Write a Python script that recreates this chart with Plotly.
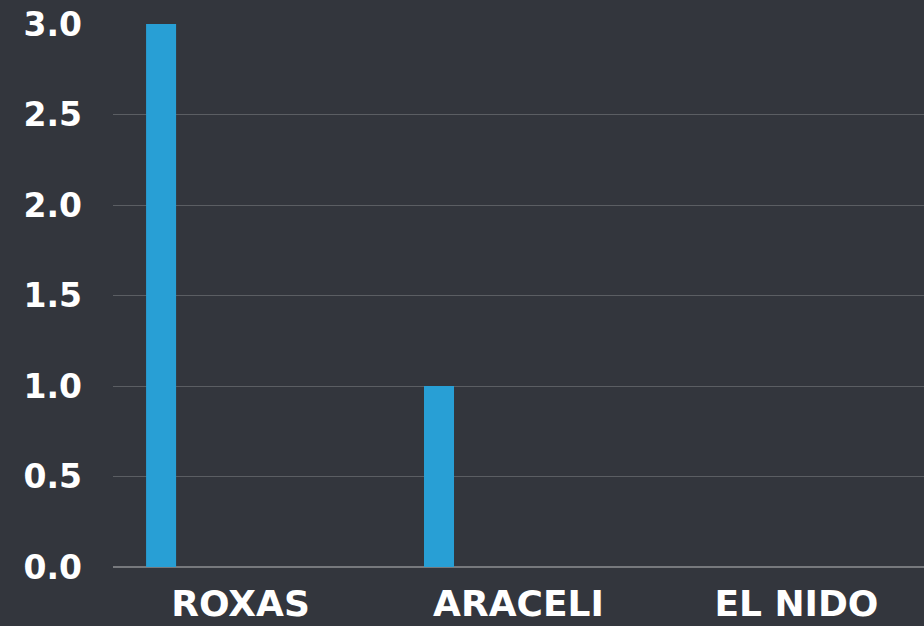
import plotly.graph_objects as go

categories = ["ROXAS", "ARACELI", "EL NIDO"]
values = [3, 1, 0]
y_ticks = [0, 0.5, 1.0, 1.5, 2.0, 2.5, 3.0]
y_tick_labels = ["0.0", "0.5", "1.0", "1.5", "2.0", "2.5", "3.0"]

BG = "#33363d"
BAR = "#289fd5"
GRID = "#5b5e63"
FONT = "DejaVu Sans"

fig = go.Figure()
fig.add_trace(go.Bar(
    x=categories, y=values,
    marker=dict(color=BAR, line=dict(width=0)),
    width=0.108, offset=-0.340,
))
fig.update_layout(
    width=924, height=626,
    paper_bgcolor=BG, plot_bgcolor=BG,
    margin=dict(l=113, r=0, t=24, b=59),
    showlegend=False,
    font=dict(family=FONT, color="white"),
    xaxis=dict(
        range=[-0.459, 2.459], showgrid=False, zeroline=False,
        tickfont=dict(family=FONT, size=36, color="white", weight=700),
        ticks="", ticklabelstandoff=12,
    ),
    yaxis=dict(
        range=[0, 3], tickvals=y_ticks, ticktext=y_tick_labels,
        showgrid=True, gridcolor=GRID, gridwidth=1,
        zeroline=True, zerolinecolor="#77797d", zerolinewidth=2,
        tickfont=dict(family=FONT, size=33, color="white", weight=700),
        ticks="", ticklabelstandoff=30,
    ),
)
fig.write_html(
    "out.html",
    config={"displayModeBar": False},
    post_script="document.body.style.margin='0';document.body.style.background='#33363d';",
)
